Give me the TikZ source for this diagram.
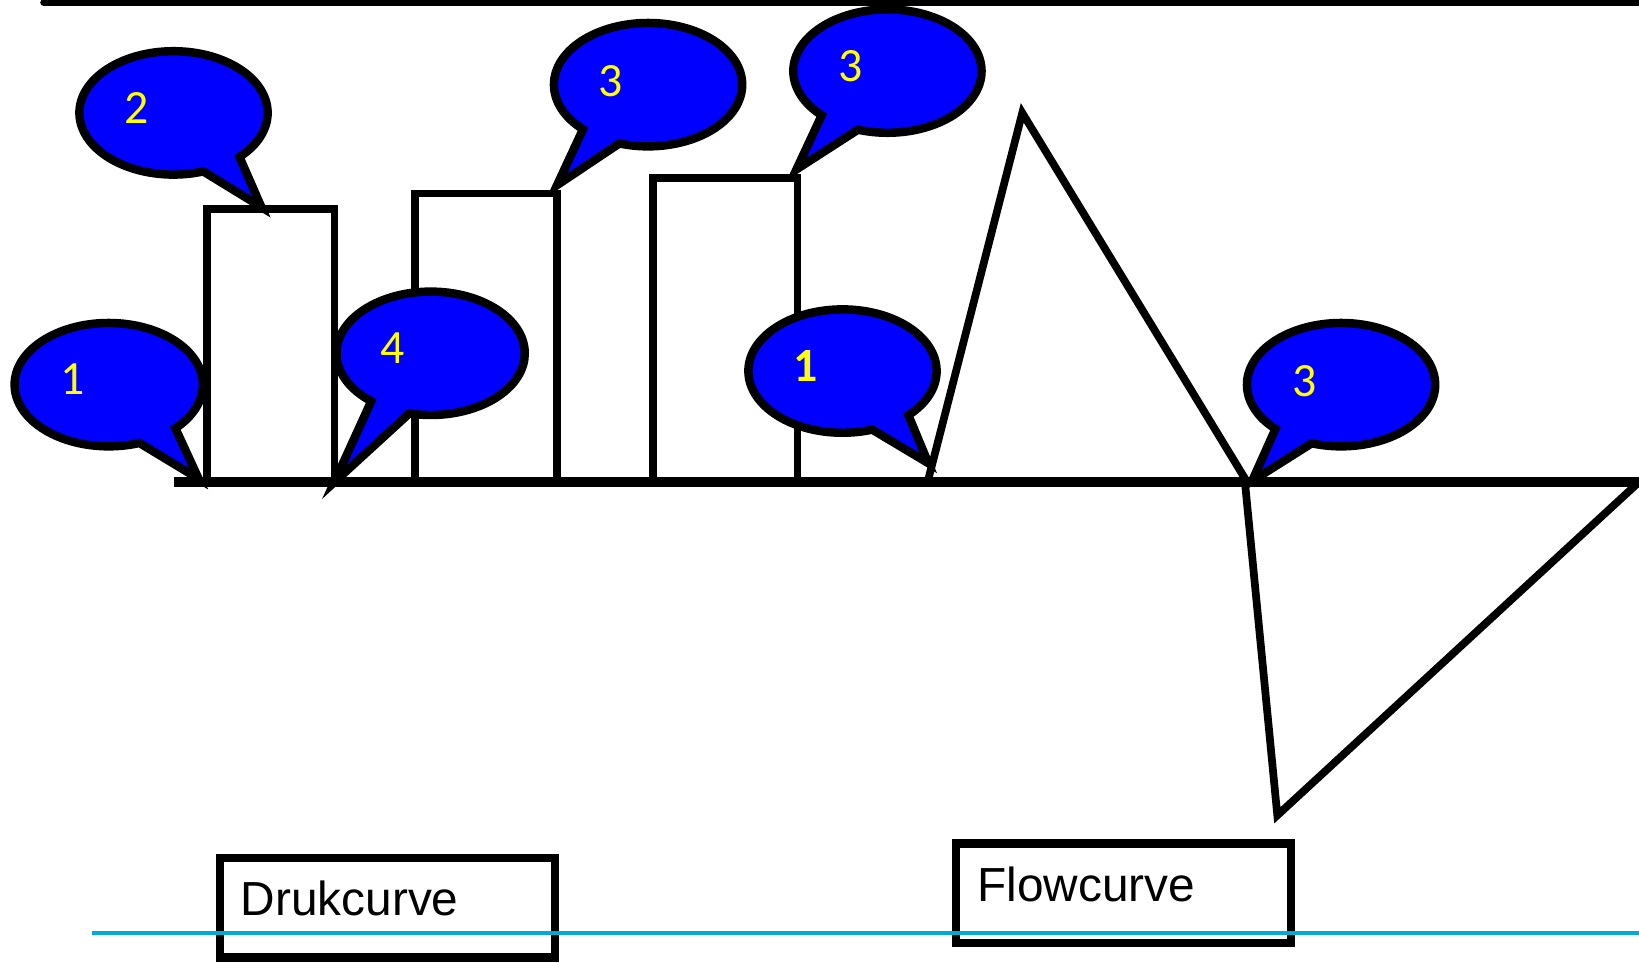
\documentclass[tikz,border=0pt]{standalone}
\usepackage{fontspec}
\setmainfont{Liberation Sans}
\newfontfamily\bubblefont{Carlito}
\usepackage{xcolor}
\usetikzlibrary{shapes,shapes.callouts,calc,positioning}

\definecolor{bubbleblue}{RGB}{0,0,255}
\definecolor{numyellow}{RGB}{255,255,0}
\definecolor{slidecyan}{RGB}{0,170,212}

\tikzset{
	bubble/.style={ellipse callout, draw=black, fill=bubbleblue, line width=2.3pt,
		minimum width=1.8cm, minimum height=1.18cm, inner sep=0pt, callout pointer arc=26},
	bubblenum/.style={font=\bubblefont\fontsize{13}{15}\selectfont, text=numyellow},
	curvebox/.style={draw, line width=2.2pt, minimum height=0.95cm, text width=2.8cm,
		inner xsep=0.2cm, align=left, text height=0.35cm, text depth=0.2cm,
		font=\fontsize{13}{16}\selectfont}
}

\begin{document}
\begin{tikzpicture}[x=0.01cm, y=-0.01cm]
		\useasboundingbox (0,0) rectangle (1568,921);
		% lines
		\draw [line width=2pt, line cap=round] (42,2.5) -- (1568,2.5);
		\draw [line width=2.6pt] (166,461) -- (1568,461);
		% pressure bars
		\draw [line width=2.1pt] (198,461) -- (198,200) -- (320,200) -- (320,461);
		\draw [line width=2.1pt] (397,461) -- (397,185) -- (533,185) -- (533,461);
		\draw [line width=2.1pt] (625,461) -- (625,170) -- (763,170) -- (763,461);
		% flow
		\draw [line width=2.1pt] (888,459) -- (978,108) -- (1193,461);
		\draw [line width=2.1pt] (1191,461) -- (1222,780) -- (1566,463);
		% bubbles
		\node [bubble, callout absolute pointer={(190,458)}] (b1left) at (104,368) {};
		\node [bubble, callout absolute pointer={(250,198)}] (b2) at (166,108) {};
		\node [bubble, callout absolute pointer={(320,461)}] (b4) at (412,338) {};
		\node [bubble, callout absolute pointer={(533,177)}] (b3a) at (620,81) {};
		\node [bubble, callout absolute pointer={(762,162)}] (b3b) at (849,68) {};
		\node [bubble, callout absolute pointer={(888,443)}] (b1mid) at (806,355) {};
		\node [bubble, callout absolute pointer={(1198,460)}] (b3right) at (1283,368) {};
		\node [bubblenum] (n1left) at ([shift={(-35,-5)}]b1left.center) {1};
		\node [bubblenum] (n2) at ([shift={(-35,-5)}]b2.center) {2};
		\node [bubblenum] (n4) at ([shift={(-36,-5)}]b4.center) {4};
		\node [bubblenum] (n3a) at ([shift={(-36,-3)}]b3a.center) {3};
		\node [bubblenum] (n3b) at ([shift={(-35,-5)}]b3b.center) {3};
		\node [bubblenum, font=\bubblefont\bfseries\fontsize{13}{15}\selectfont] (n1mid) at ([shift={(-35,-5)}]b1mid.center) {1};
		\node [bubblenum] (n3right) at ([shift={(-35,-3)}]b3right.center) {3};
		% labels
		\node [curvebox] (druk) at (370.5,868.5) {Drukcurve};
		\node [curvebox] (flow) at (1075,854.5) {Flowcurve};
		\draw [slidecyan, line width=1.1pt] (88,893) -- (1568,893);
\end{tikzpicture}
\end{document}
